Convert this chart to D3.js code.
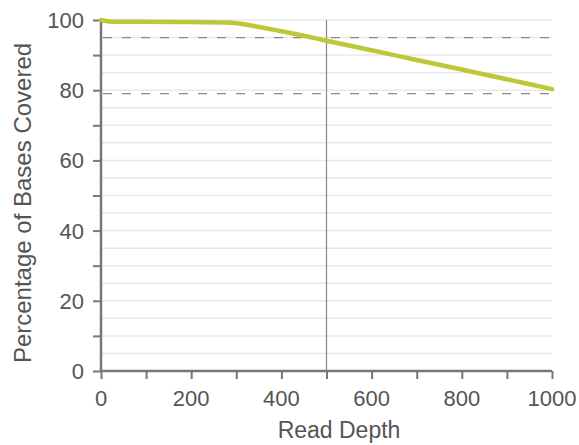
<!DOCTYPE html>
<html>
<head>
<meta charset="utf-8">
<script src="https://cdn.jsdelivr.net/npm/d3@7"></script>
<style>
  body { margin: 0; background: #fff; }
  svg text { font-family: "Liberation Sans", Helvetica, Arial, sans-serif; fill: #555; }
</style>
</head>
<body>
<div id="chart"></div>
<script>
// read depth vs percentage of bases covered
var depth   = [0, 25, 100, 200, 280, 300, 330, 360, 400, 450, 500, 600, 700, 800, 900, 1000];
var covered = [100, 99.5, 99.5, 99.4, 99.3, 99.1, 98.5, 97.8, 96.8, 95.5, 94.1, 91.4, 88.6, 85.9, 83.1, 80.3];
var xTicks = [0, 200, 400, 600, 800, 1000];
var yTicks = [0, 20, 40, 60, 80, 100];
var thresholds = [95, 79];
var markDepth = 500;

init();

function init() {
    var w = 579, h = 445;
    var svg = d3.select("#chart").append("svg")
        .attr("width", w)
        .attr("height", h);

    var x = d3.scaleLinear().domain([0, 1000]).range([101, 552]);
    var y = d3.scaleLinear().domain([0, 100]).range([371, 20]);

    // light grid every 5%
    svg.append("g").selectAll("line")
        .data(d3.range(5, 101, 5))
        .enter().append("line")
        .attr("x1", x(0)).attr("x2", x(1000))
        .attr("y1", function(d) { return y(d); })
        .attr("y2", function(d) { return y(d); })
        .attr("stroke", "#e8e8e8")
        .attr("stroke-width", 1.5);

    // dashed threshold lines
    svg.append("g").selectAll("line")
        .data(thresholds)
        .enter().append("line")
        .attr("x1", x(0) + 2).attr("x2", x(1000))
        .attr("y1", function(d) { return y(d); })
        .attr("y2", function(d) { return y(d); })
        .attr("stroke", "#8a8a8a")
        .attr("stroke-width", 1.2)
        .attr("stroke-dasharray", "9,10");

    // vertical marker
    svg.append("line")
        .attr("x1", x(markDepth)).attr("x2", x(markDepth))
        .attr("y1", y(100)).attr("y2", y(0))
        .attr("stroke", "#888")
        .attr("stroke-width", 1.2);

    // axes
    var xAxis = svg.append("g")
        .attr("transform", "translate(0," + y(0) + ")")
        .call(d3.axisBottom(x).tickValues(d3.range(0, 1001, 100)).tickSize(8).tickFormat(""));
    var yAxis = svg.append("g")
        .attr("transform", "translate(" + x(0) + ",0)")
        .call(d3.axisLeft(y).tickValues(d3.range(0, 101, 10)).tickSize(8).tickFormat(""));

    [xAxis, yAxis].forEach(function(a) {
        a.select(".domain").attr("stroke", "#777").attr("stroke-width", 2.5);
        a.selectAll(".tick line").attr("stroke", "#777").attr("stroke-width", 2);
    });
    xAxis.select(".domain").attr("d", "M" + x(0) + ",0H" + x(1000));
    yAxis.select(".domain").attr("d", "M0," + y(0) + "V" + y(100));

    svg.append("g").selectAll("text")
        .data(xTicks)
        .enter().append("text")
        .attr("x", function(d) { return x(d); })
        .attr("y", 406)
        .attr("text-anchor", "middle")
        .style("font-size", "22px")
        .text(function(d) { return d; });

    svg.append("g").selectAll("text")
        .data(yTicks)
        .enter().append("text")
        .attr("x", 84)
        .attr("y", function(d) { return y(d); })
        .attr("dy", "0.36em")
        .attr("text-anchor", "end")
        .style("font-size", "22px")
        .text(function(d) { return d; });

    // axis titles
    svg.append("text")
        .attr("x", 339)
        .attr("y", 438)
        .attr("text-anchor", "middle")
        .style("font-size", "23px")
        .text("Read Depth");

    svg.append("text")
        .attr("transform", "translate(31,203) rotate(-90)")
        .attr("text-anchor", "middle")
        .style("font-size", "24px")
        .text("Percentage of Bases Covered");

    // coverage curve
    var line = d3.line()
        .x(function(d, i) { return x(depth[i]); })
        .y(function(d) { return y(d); })
        .curve(d3.curveMonotoneX);

    svg.append("path")
        .datum(covered)
        .attr("fill", "none")
        .attr("stroke", "#bcc83a")
        .attr("stroke-width", 4.5)
        .attr("stroke-linecap", "round")
        .attr("stroke-linejoin", "round")
        .attr("d", line);
}
</script>
</body>
</html>
